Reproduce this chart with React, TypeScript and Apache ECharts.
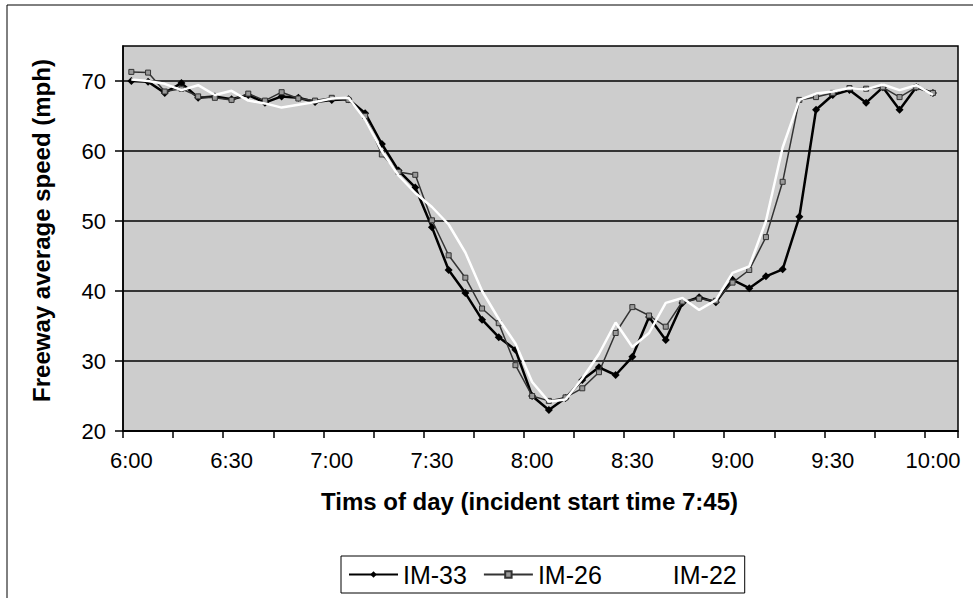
import React, { useEffect, useRef } from "react";
import * as echarts from "echarts";

const categories = [
  "6:00", "6:05", "6:10", "6:15", "6:20", "6:25", "6:30", "6:35", "6:40", "6:45",
  "6:50", "6:55", "7:00", "7:05", "7:10", "7:15", "7:20", "7:25", "7:30", "7:35",
  "7:40", "7:45", "7:50", "7:55", "8:00", "8:05", "8:10", "8:15", "8:20", "8:25",
  "8:30", "8:35", "8:40", "8:45", "8:50", "8:55", "9:00", "9:05", "9:10", "9:15",
  "9:20", "9:25", "9:30", "9:35", "9:40", "9:45", "9:50", "9:55", "10:00", "10:05",
];

const im33 = [
  70.0, 69.9, 68.3, 69.7, 67.6, 67.8, 67.4, 68.0, 66.9, 67.8,
  67.6, 67.0, 67.3, 67.4, 65.4, 61.0, 57.2, 54.8, 49.1, 43.0,
  39.7, 35.9, 33.4, 31.6, 25.0, 23.0, 24.7, 27.3, 29.1, 28.0,
  30.6, 36.3, 33.0, 38.3, 39.1, 38.4, 41.6, 40.4, 42.1, 43.1,
  50.6, 65.9, 68.0, 68.7, 66.9, 69.1, 65.9, 69.1, 68.3, null,
];

const im26 = [
  71.3, 71.2, 68.5, 68.9, 67.8, 67.6, 67.3, 68.2, 67.2, 68.4,
  67.5, 67.2, 67.6, 67.3, 65.0, 59.5, 57.0, 56.6, 50.1, 45.1,
  41.9, 37.5, 35.4, 29.4, 25.0, 24.3, 24.8, 26.1, 28.4, 34.0,
  37.7, 36.5, 34.9, 38.5, 38.9, 38.6, 41.2, 43.0, 47.7, 55.6,
  67.3, 67.7, 68.3, 69.0, 68.9, 69.1, 67.7, 69.1, 68.3, null,
];

const im22 = [
  70.2, 70.0, 69.6, 68.7, 69.4, 68.0, 68.6, 67.2, 66.8, 66.2,
  66.6, 67.0, 67.5, 67.6, 64.5, 60.0, 56.5, 54.0, 52.0, 49.5,
  45.5, 40.0, 36.0, 32.5, 27.0, 24.2, 24.5, 27.5, 31.0, 35.5,
  32.0, 34.0, 38.3, 39.0, 37.3, 38.7, 42.6, 43.5, 50.0, 60.5,
  67.3, 68.2, 68.5, 69.0, 68.8, 69.5, 68.7, 69.4, 68.0, null,
];

const yTicks = [20, 30, 40, 50, 60, 70];

const FONT = "'Liberation Sans', Arial, Helvetica, sans-serif";

export default function App() {
  const ref = useRef<HTMLDivElement>(null);

  useEffect(() => {
    if (!ref.current) return;
    const chart = echarts.init(ref.current, null, { renderer: "svg" });
    chart.setOption({
      animation: false,
      backgroundColor: "#ffffff",
      textStyle: { fontFamily: FONT },
      graphic: [
        {
          type: "rect",
          shape: { x: 7, y: 5, width: 1000, height: 1000 },
          style: { fill: "none", stroke: "#000", lineWidth: 1 },
          silent: true,
          z: -10,
        },
      ],
      grid: {
        left: 123,
        top: 46,
        right: 15,
        bottom: 167,
        show: true,
        backgroundColor: "#cdcdcd",
        borderColor: "#000",
        borderWidth: 1.5,
      },
      legend: {
        left: 341,
        top: 556,
        padding: [6, 8, 6, 7],
        itemWidth: 49,
        itemHeight: 8,
        itemGap: 16,
        borderColor: "#000",
        borderWidth: 1,
        textStyle: { fontSize: 25, color: "#000", fontFamily: FONT },
        data: ["IM-33", "IM-26", "IM-22"],
      },
      xAxis: {
        type: "category",
        data: categories,
        boundaryGap: true,
        name: "Tims of day (incident start time 7:45)",
        nameLocation: "middle",
        nameGap: 58,
        nameTextStyle: {
          fontSize: 24,
          fontWeight: "bold",
          color: "#000",
          fontFamily: FONT,
          padding: [0, 22, 0, 0],
        },
        axisLine: { show: true, lineStyle: { color: "#000", width: 1.5 } },
        axisTick: { show: true, interval: 2, length: 7, lineStyle: { color: "#000", width: 1.5 } },
        axisLabel: { interval: 5, fontSize: 22, color: "#000", margin: 18, fontFamily: FONT },
        splitLine: { show: false },
      },
      yAxis: {
        type: "value",
        min: 20,
        max: 75,
        interval: 10,
        name: "Freeway average speed (mph)",
        nameLocation: "middle",
        nameGap: 70,
        nameTextStyle: {
          fontSize: 24,
          fontWeight: "bold",
          color: "#000",
          fontFamily: FONT,
          padding: [0, 0, 0, 16],
        },
        axisLine: { show: true, lineStyle: { color: "#000", width: 1.5 } },
        axisTick: {
          show: true,
          length: 8,
          customValues: yTicks,
          lineStyle: { color: "#000", width: 1.5 },
        },
        axisLabel: {
          fontSize: 22,
          color: "#000",
          margin: 17,
          customValues: yTicks,
          fontFamily: FONT,
        },
        splitLine: { show: true, lineStyle: { color: "#000", width: 1.5 } },
      },
      series: [
        {
          name: "IM-33",
          type: "line",
          data: im33,
          symbol: "diamond",
          symbolSize: 8,
          lineStyle: { color: "#000", width: 2.5 },
          itemStyle: { color: "#000" },
          z: 3,
        },
        {
          name: "IM-26",
          type: "line",
          data: im26,
          symbol: "rect",
          symbolSize: 5,
          lineStyle: { color: "#333", width: 1.5 },
          itemStyle: { color: "#999", borderColor: "#333", borderWidth: 1 },
          z: 4,
        },
        {
          name: "IM-22",
          type: "line",
          data: im22,
          symbol: "none",
          lineStyle: { color: "#fff", width: 2.5 },
          itemStyle: { color: "#fff" },
          z: 5,
        },
      ],
    });
    return () => chart.dispose();
  }, []);

  return (
    <div
      ref={ref}
      style={{ position: "absolute", left: 0, top: 0, width: 973, height: 598 }}
    />
  );
}
